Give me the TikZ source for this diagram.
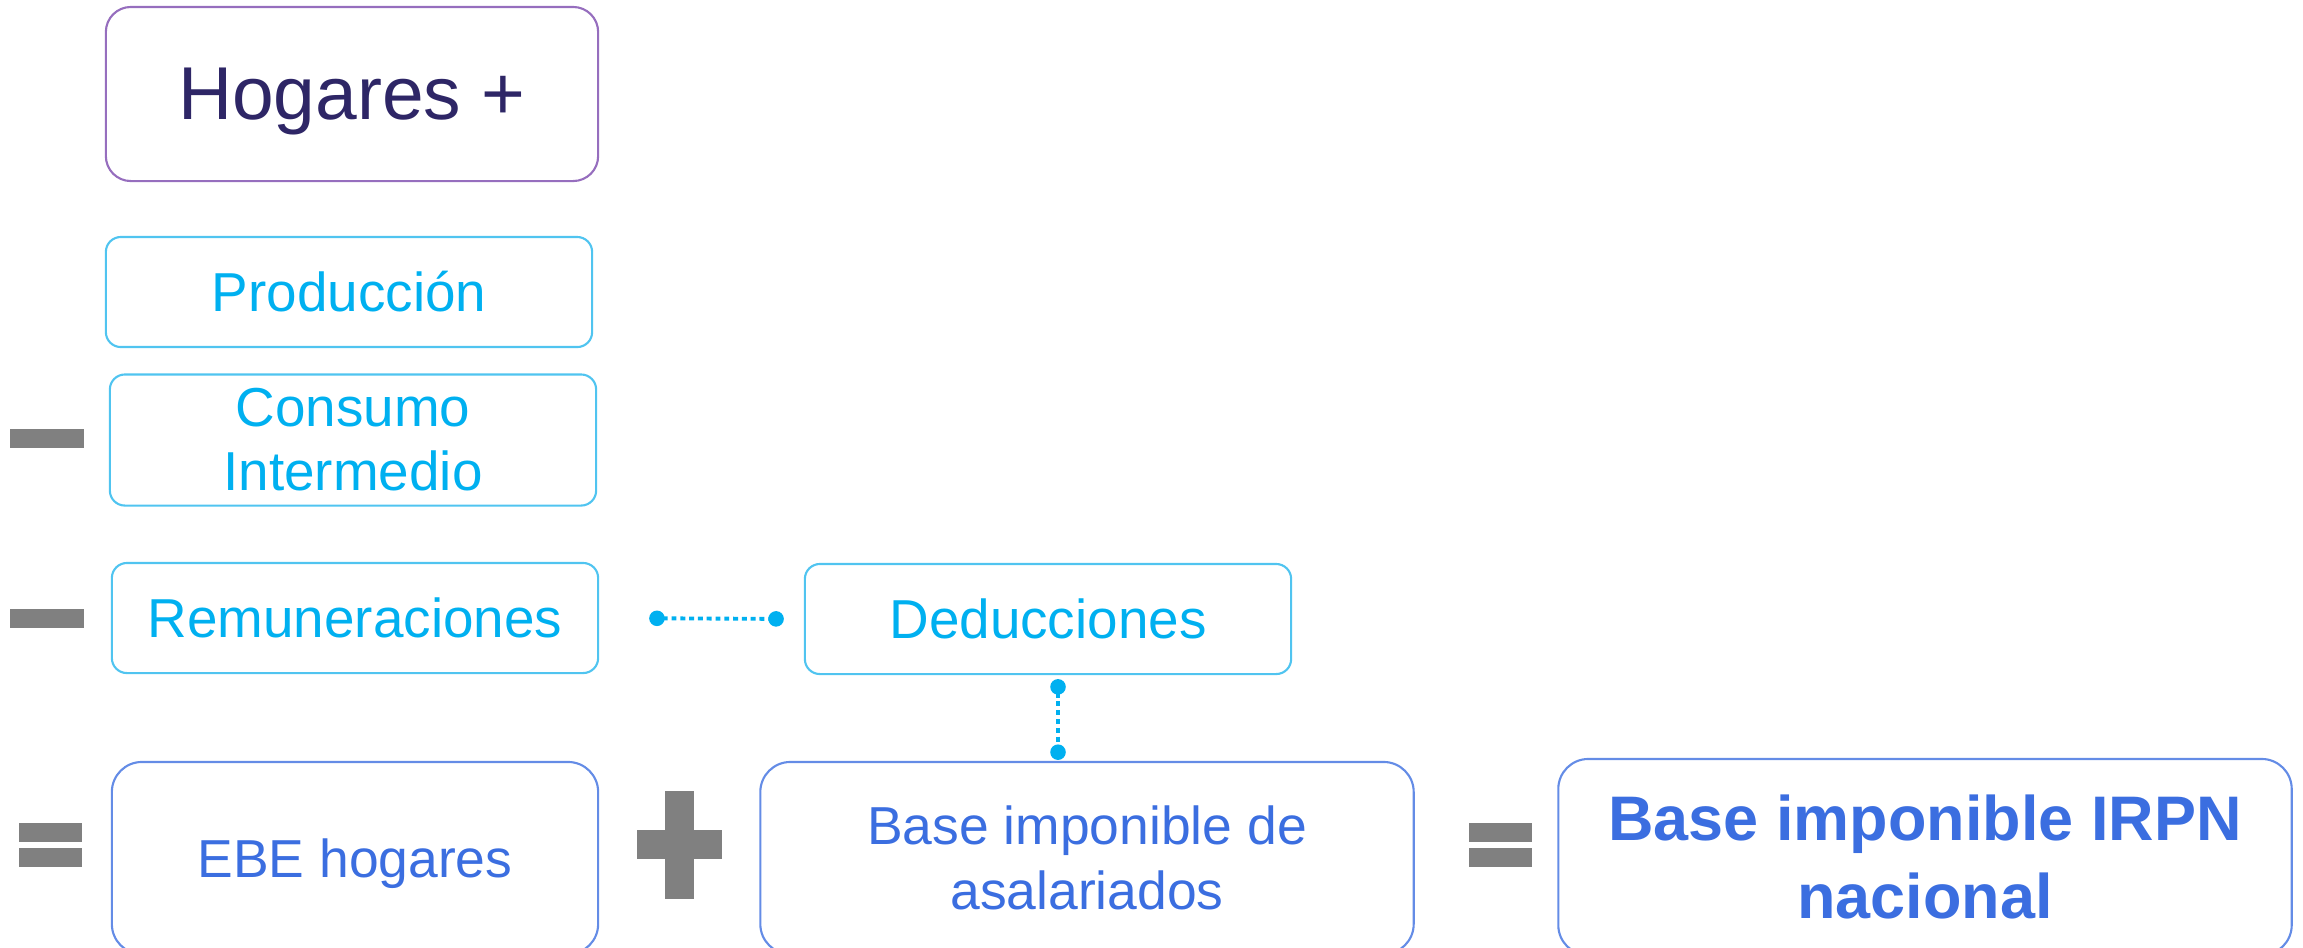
\documentclass[tikz,border=0pt]{standalone}
\usepackage{fontspec}
\setmainfont{Liberation Sans}
\usepackage{tikz}
\usetikzlibrary{arrows.meta}
\definecolor{navy}{RGB}{46,38,102}
\definecolor{lila}{RGB}{150,110,190}
\definecolor{cian}{RGB}{0,176,240}
\definecolor{cianline}{RGB}{80,196,240}
\definecolor{azul}{RGB}{59,110,224}
\definecolor{azulline}{RGB}{100,140,230}
\definecolor{signo}{RGB}{128,128,128}
\tikzstyle{hogar}=[draw=lila, line width=0.6pt, rounded corners=0.25cm, minimum width=4.92cm, minimum height=1.74cm, text=navy, text depth=0pt, font=\fontsize{21.3}{25}\selectfont]
\tikzstyle{cuenta}=[draw=cianline, line width=0.6pt, rounded corners=0.15cm, minimum width=4.86cm, minimum height=1.1cm, text=cian, align=center, font=\fontsize{15.6}{18.2}\selectfont]
\tikzstyle{total}=[draw=azulline, line width=0.6pt, rounded corners=0.3cm, minimum height=1.92cm, text=azul, align=center, font=\fontsize{15.2}{18.5}\selectfont]
\tikzstyle{enlace}=[cian, line width=1.1pt, dash pattern=on 1.4pt off 1.1pt, {Circle[length=4.4pt]}-{Circle[length=4.4pt]}]

\begin{document}
\begin{tikzpicture}[x=0.01cm, y=-0.01cm]
    \useasboundingbox (0,0) rectangle (2303,947);
    \clip (0,0) rectangle (2303,947);
    % boxes
    \node[hogar] (hog) at (352,94) {Hogares +};
    \node[cuenta] (prod) at (349,292) {Producción};
    \node[cuenta, minimum height=1.31cm] (ci) at (353,440) {Consumo\\Intermedio};
    \node[cuenta] (rem) at (355,618) {Remuneraciones};
    \node[cuenta] (ded) at (1048,619) {Deducciones};
    \node[total, minimum width=4.86cm, text depth=0pt] (ebe) at (355,858) {EBE hogares};
    \node[total, minimum width=6.53cm] (asal) at (1087,858) {Base imponible de\\asalariados};
    \node[total, minimum width=7.33cm, minimum height=1.96cm, font=\bfseries\fontsize{17.9}{22.2}\selectfont] (irpn) at (1925,857) {Base imponible IRPN\\nacional};
    % signs
    \foreach \y in {429,609} {
        \fill[signo] (10,\y) rectangle (84,\y+19);
    }
    \foreach \x in {19,1469} {
        \fill[signo] (\x,823) rectangle (\x+63,842); \fill[signo] (\x,848) rectangle (\x+63,867);
    }
    \fill[signo] (665,791) rectangle (694,899); \fill[signo] (637,830) rectangle (722,859);
    % links
    \draw[enlace, shorten <=0.5cm, shorten >=0.2cm] (rem.east) -- (ded.west);
    \coordinate (tap) at ([xshift=0.1cm]ded.south);
    \draw[enlace, shorten <=0.04cm, shorten >=0.01cm] (tap) -- (tap |- asal.north);
\end{tikzpicture}
\end{document}
